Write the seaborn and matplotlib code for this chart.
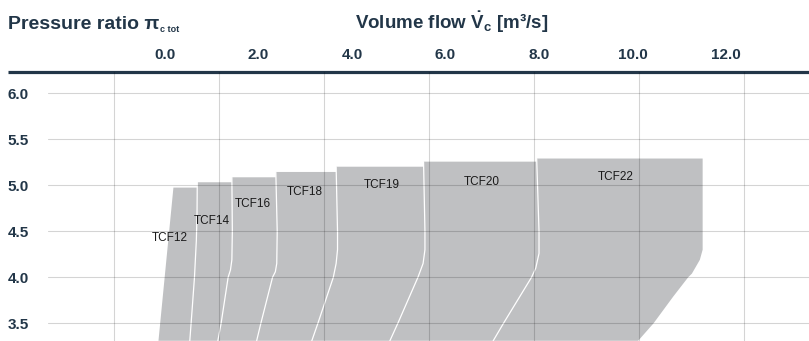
import numpy as np
import pandas as pd
import seaborn as sns
import matplotlib.pyplot as plt

# units and their max pressure ratio (top of each field)
units = ['TCF12', 'TCF14', 'TCF16', 'TCF18', 'TCF19', 'TCF20', 'TCF22']
max_pr = [4.975, 5.033, 5.087, 5.145, 5.202, 5.257, 5.291]
# flow where each field starts / ends (left edge of TCF12 ... right edge of TCF22)
flow_edges = [0.18, 0.69, 1.43, 2.37, 3.66, 5.53, 7.95, 11.50]

# lower left edge of the map
left_flow = [-0.14, 0.18]
left_pr = [3.31, 4.975]
# right edge of TCF22 going down
right_flow = [11.50, 11.50, 11.44, 11.27, 11.19, 10.87, 10.45, 10.12]
right_pr = [5.291, 4.30, 4.19, 4.04, 4.00, 3.79, 3.50, 3.31]

# white borders between neighbouring units
border_flow = [
    [0.69, 0.685, 0.67, 0.63, 0.58, 0.53],
    [1.43, 1.44, 1.43, 1.40, 1.35, 1.20, 1.13],
    [2.37, 2.40, 2.39, 2.36, 2.30, 2.05, 1.96],
    [3.66, 3.69, 3.69, 3.66, 3.60, 3.27, 3.14],
    [5.53, 5.56, 5.56, 5.52, 5.41, 4.98, 4.81],
    [7.95, 8.00, 8.00, 7.93, 7.84, 7.24, 7.02],
]
border_pr = [
    [5.033, 4.70, 4.40, 4.00, 3.65, 3.31],
    [5.087, 4.50, 4.19, 4.08, 4.00, 3.50, 3.31],
    [5.145, 4.50, 4.15, 4.06, 4.00, 3.50, 3.31],
    [5.202, 4.50, 4.30, 4.15, 4.00, 3.50, 3.31],
    [5.257, 4.50, 4.30, 4.15, 4.00, 3.50, 3.31],
    [5.291, 4.50, 4.26, 4.10, 4.00, 3.50, 3.31],
]

label_flow = [0.11, 1.00, 1.88, 3.00, 4.64, 6.78, 9.65]
label_pr = [4.43, 4.61, 4.80, 4.93, 5.00, 5.04, 5.09]

x_ticks = [0, 2, 4, 6, 8, 10, 12]
y_ticks = [3.5, 4.0, 4.5, 5.0, 5.5, 6.0]

navy = '#223648'
fill_grey = '#bfc0c2'

sns.set_style('white')
plt.rcParams['font.family'] = ['Liberation Sans', 'DejaVu Sans']
plt.rcParams['mathtext.fontset'] = 'custom'
plt.rcParams['mathtext.rm'] = 'Liberation Sans:bold'
plt.rcParams['mathtext.it'] = 'Liberation Sans:bold'
plt.rcParams['mathtext.bf'] = 'Liberation Sans:bold'

fig = plt.figure(figsize=(8.09, 3.41), dpi=100)
ax = fig.add_axes([48 / 809, 0, 761 / 809, 269 / 341])

# outline of the whole map
xs = list(left_flow)
ys = list(left_pr)
for i in range(len(units)):
    xs += [flow_edges[i], flow_edges[i + 1]]
    ys += [max_pr[i], max_pr[i]]
xs += right_flow
ys += right_pr
ax.fill(xs, ys, color=fill_grey, lw=0, zorder=1)

rows = []
for k, (bf, bp) in enumerate(zip(border_flow, border_pr)):
    for f, p in zip(bf, bp):
        rows.append({'flow': f, 'pr': p, 'border': k})
borders = pd.DataFrame(rows)
sns.lineplot(data=borders, x='flow', y='pr', units='border', estimator=None,
             sort=False, color='white', lw=0.9, ax=ax, zorder=2)

for name, f, p in zip(units, label_flow, label_pr):
    ax.text(f, p, name, fontsize=8.5, color='#1a1a1a', ha='center', va='center', zorder=4)

ax.set_xlim(-2.503, 13.775)
ax.set_ylim(3.3076, 6.2315)
ax.set_xlabel('')
ax.set_ylabel('')

ax.xaxis.tick_top()
ax.set_xticks(x_ticks)
ax.set_xticklabels([f'{v:.1f}' for v in x_ticks], fontsize=11, fontweight='bold', color=navy)
ax.set_yticks(y_ticks)
ax.set_yticklabels([f'{v:.1f}' for v in y_ticks], fontsize=11, fontweight='bold', color=navy,
                   ha='left')
ax.tick_params(axis='x', length=0, pad=7)
ax.tick_params(axis='y', length=0, pad=29)

# vertical grid lines sit on their own spacing
grid_x = -1.097 + 2.248 * np.arange(7)
ax.set_xticks(grid_x, minor=True)
ax.tick_params(axis='x', which='minor', length=0)
ax.set_axisbelow(False)
ax.grid(False)
ax.grid(axis='y', which='major', color='black', alpha=0.17, lw=0.8)
ax.grid(axis='x', which='minor', color='black', alpha=0.17, lw=0.8)

for s in ['left', 'right', 'bottom', 'top']:
    ax.spines[s].set_visible(False)
ax.plot([-40 / 761, 1], [1, 1], transform=ax.transAxes, clip_on=False,
        color=navy, lw=2.3, solid_capstyle='butt')

# titles: main text, then a small subscript right after it
t1 = fig.text(8 / 809, 1 - 29 / 341, 'Pressure ratio π',
              fontsize=14, fontweight='bold', color=navy, va='baseline')
renderer = fig.canvas.get_renderer()
bb = t1.get_window_extent(renderer)
fig.text((bb.x1 + 1) / 809, 1 - 32.5 / 341, 'c tot',
         fontsize=6.5, fontweight='bold', color=navy, va='baseline')
fig.text(355 / 809, 1 - 29 / 341, r'Volume flow $\dot{V}_{\mathrm{c}}$ [m³/s]',
         fontsize=13.5, fontweight='bold', color=navy, va='baseline')

fig.savefig('out.png', dpi=100)
